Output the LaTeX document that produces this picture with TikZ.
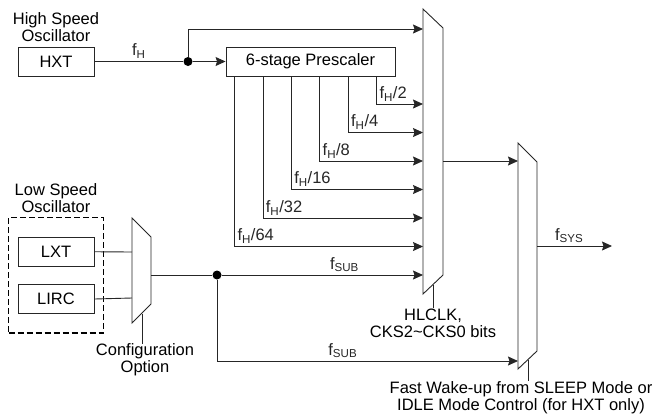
\documentclass[tikz,border=0pt]{standalone}
\usepackage{fontspec}
\setmainfont{Liberation Sans}
\usetikzlibrary{positioning,arrows.meta,calc,fit}
\tikzset{
  every node/.style={font=\fontsize{16.5pt}{17pt}\selectfont},
  sig/.style={line width=0.9pt,black!85},
  sigar/.style={sig,-{Stealth[length=10pt,width=9pt,inset=1.5pt]}},
  blk/.style={draw,line width=0.9pt,black!85,text=black,minimum width=76pt,minimum height=29pt,inner sep=0pt},
  jdot/.style={circle,fill=black,inner sep=0pt,minimum size=9pt},
  muxln/.style={line width=0.9pt,black!85},
  dbox/.style={draw,line width=1.4pt,dash pattern=on 6pt off 3pt,inner xsep=9pt,inner ysep=19pt},
  lbl/.style={inner sep=2.5pt},
  txt/.style={align=center,inner sep=0pt},
}

\begin{document}
\begin{tikzpicture}[x=1pt,y=-1pt]
  \useasboundingbox (0,0) rectangle (656,418);
  % ---- oscillators ----
  \node[blk] (hxt) at (56,61.5) {HXT};
  \node[txt] (hsolbl) at (56,27) {High Speed\\Oscillator};
  \node[blk,minimum width=169pt] (pre) at (310.5,61.5) {6-stage Prescaler};
  \node[blk] (lxt) at (56,251.5) {LXT};
  \node[blk] (lirc) at (56,299) {LIRC};
  \node[dbox,fit=(lxt)(lirc)] (lso) {};
  \node[txt] (lsolbl) at (56,198) {Low Speed\\Oscillator};
  % ---- multiplexers ----
  \draw[muxln] (132,218) -- (151,237) -- (151,304) -- (132,323) -- cycle;
  \draw[muxln] (423,9) -- (443,28) -- (443,275) -- (423,294) -- cycle;
  \draw[muxln] (518,143) -- (537,162) -- (537,351) -- (518,369) -- cycle;
  \coordinate (m0a) at (132,252);
  \coordinate (m0b) at (132,298);
  \coordinate (m0out) at (151,275);
  \coordinate (m0sel) at (142,313.5);
  \coordinate (m1top) at (423,29);
  \coordinate (m1sub) at (423,275);
  \coordinate (m1out) at (443,161);
  \coordinate (m1sel) at (433,284.5);
  \coordinate (m2in) at (518,161);
  \coordinate (m2sub) at (518,361);
  \coordinate (m2out) at (537,246);
  \coordinate (m2sel) at (528,359.5);
  \coordinate (fsys) at (612,246);
  % ---- high speed path ----
  \node[jdot] (hdot) at (188,61.5) {};
  \draw[sig] (hxt) -- node[lbl,above]{f\textsubscript{H}} (hdot);
  \draw[sigar] (hdot) -- (pre);
  \draw[sigar] (hdot) |- (m1top);
  \foreach \d [count=\k from 0] in {2,4,8,16,32,64}{
    \coordinate (tap\d) at ($(pre.south west)+(151-28.4*\k,0)$);
    \coordinate (in\d) at (423,104+28.5*\k);
    \draw[sigar] (tap\d) |- node[lbl,anchor=south west]{f\textsubscript{H}/\d} (in\d);
  }
  % ---- low speed path ----
  \draw[sig] (lxt) -- (m0a);
  \draw[sig] (lirc.east) -- (m0b);
  \node[jdot] (sdot) at (217,275) {};
  \draw[sig] (m0out) -- (sdot);
  \draw[sigar] (sdot) -- node[lbl,above,pos=0.61]{f\textsubscript{SUB}} (m1sub);
  \draw[sigar] (sdot) |- node[lbl,above,pos=0.709]{f\textsubscript{SUB}} (m2sub);
  \draw[sigar] (m1out) -- (m2in);
  \draw[sigar] (m2out) -- node[lbl,above,pos=0.43]{f\textsubscript{SYS}} (fsys);
  % ---- select inputs ----
  \node[txt] (cfg) at (145,360) {Configuration\\Option};
  \node[txt] (hlclk) at (433,323) {HLCLK,\\CKS2\textasciitilde CKS0 bits};
  \node[txt] (fwk) at (521,397.5) {Fast Wake-up from SLEEP Mode or\\IDLE Mode Control (for HXT only)};
  \draw[sig] (m0sel) -- (cfg.north -| m0sel);
  \draw[sig] (m1sel) -- (hlclk.north -| m1sel);
  \draw[sig] (m2sel) -- (fwk.north -| m2sel);
\end{tikzpicture}
\end{document}
